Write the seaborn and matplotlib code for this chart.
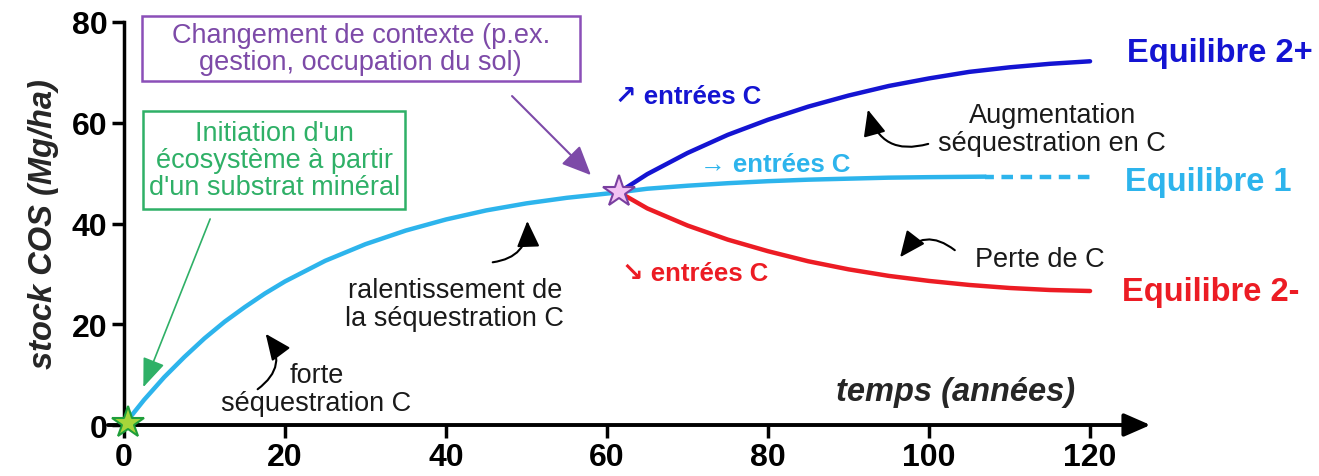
import numpy as np
import pandas as pd
import matplotlib
matplotlib.use('Agg')
import matplotlib.pyplot as plt
from matplotlib.patches import Rectangle
import seaborn as sns

# values
years_eq1 = [0, 2.5, 5, 7.5, 10, 12.5, 15, 17.5, 20, 25, 30, 35, 40, 45, 50, 55, 61.5,
             65, 70, 75, 80, 85, 90, 95, 100, 107]
stock_eq1 = [0, 5.0, 9.5, 13.5, 17.2, 20.5, 23.4, 26.1, 28.5, 32.6, 35.9, 38.6, 40.8,
             42.6, 44.0, 45.1, 46.2, 46.9, 47.5, 48.0, 48.4, 48.7, 48.9, 49.1, 49.2, 49.3]
years_eq1_dash = [107, 120]
stock_eq1_dash = [49.3, 49.3]
years_eq2 = [61.5, 65, 70, 75, 80, 85, 90, 95, 100, 105, 110, 115, 120]
stock_eq2_plus = [46.2, 49.8, 54.0, 57.6, 60.6, 63.2, 65.4, 67.3, 68.8, 70.1, 71.0, 71.7, 72.2]
stock_eq2_minus = [46.2, 43.0, 39.6, 36.8, 34.5, 32.5, 30.9, 29.6, 28.6, 27.8, 27.2, 26.8, 26.6]
x_ticks = [0, 20, 40, 60, 80, 100, 120]
y_ticks = [0, 20, 40, 60, 80]

c_cyan = '#2db4ec'
c_blue = '#1414d2'
c_red = '#ec1c24'
c_purple = '#7d4aa8'
c_green = '#2fb067'
c_text = '#1a1a1a'

sns.set_style('white')
plt.rcParams['font.family'] = ['Liberation Sans', 'DejaVu Sans']

fig = plt.figure(figsize=(13.19, 4.77), dpi=100)
ax = fig.add_axes([0.0818, 0.1069, 0.7904, 0.8449])

sns.lineplot(x=years_eq1, y=stock_eq1, color=c_cyan, lw=3.2, ax=ax)
sns.lineplot(x=years_eq1_dash, y=stock_eq1_dash, color=c_cyan, lw=3.2,
             linestyle=(0.6, (2.6, 1.7)), ax=ax)
sns.lineplot(x=years_eq2, y=stock_eq2_plus, color=c_blue, lw=3.2, ax=ax)
sns.lineplot(x=years_eq2, y=stock_eq2_minus, color=c_red, lw=3.2, ax=ax)

# stars: start of the ecosystem and change of context
ax.plot(years_eq1[0] + 0.5, stock_eq1[0] + 0.3, marker='*', ms=24, mfc='#a6d63a',
        mec='#1f9e3a', mew=1.5, clip_on=False, zorder=5)
ax.plot(years_eq2[0], stock_eq2_plus[0], marker='*', ms=24, mfc='#f3c2f3',
        mec='#7a3fa0', mew=1.5, clip_on=False, zorder=5)

# axes: spines first (moving a spine resets the tick labels)
for s in ['top', 'right', 'bottom']:
    ax.spines[s].set_visible(False)
ax.spines['left'].set_position(('data', 0))
ax.spines['left'].set_bounds(0, 80)
ax.spines['left'].set_linewidth(2.5)
ax.spines['left'].set_color('black')

ax.set_xlim(-2, 127.5)
ax.set_ylim(0, 80)
ax.set_xticks(x_ticks, labels=[str(v) for v in x_ticks], fontsize=23, fontweight='bold')
ax.set_yticks(y_ticks, labels=[str(v) for v in y_ticks], fontsize=23, fontweight='bold')
ax.tick_params(axis='both', width=2.5, length=9, color='black',
               direction='out', left=True, bottom=True, labelcolor='black')
ax.tick_params(axis='x', pad=3)
ax.tick_params(axis='y', pad=3)
ax.annotate('', xy=(1, 0), xytext=(0, 0), xycoords='axes fraction',
            arrowprops=dict(arrowstyle='-|>,head_length=0.8,head_width=0.35',
                            mutation_scale=20, lw=2.8, color='black',
                            shrinkA=0, shrinkB=0))

ax.set_ylabel('stock COS (Mg/ha)', fontsize=23.5, fontweight='bold', style='italic')
ax.yaxis.set_label_coords(-0.047, 0.5)
ax.set_xlabel('temps (années)', fontsize=23.5, fontweight='bold', style='italic',
              ha='right', va='center')
ax.xaxis.set_label_coords(0.928, 0.082)

# boxes
ax.add_patch(Rectangle((2.2, 68.3), 54.4, 12.9, fill=False, ec='#8b4fb8', lw=1.8,
                       clip_on=False))
ax.text(29.4, 74.8, 'Changement de contexte (p.ex.\ngestion, occupation du sol)',
        fontsize=19.5, color=c_purple, ha='center', va='center', linespacing=1.05)
ax.annotate('', xy=(58.0, 49.6), xytext=(48.2, 65.3),
            arrowprops=dict(arrowstyle='-|>,head_length=0.9,head_width=0.4',
                            mutation_scale=20, lw=1.5, color=c_purple,
                            shrinkA=0, shrinkB=0))
ax.add_patch(Rectangle((2.35, 42.9), 32.6, 19.4, fill=False, ec=c_green, lw=1.8))
ax.text(18.7, 52.6, "Initiation d'un\nécosystème à partir\nd'un substrat minéral",
        fontsize=19.5, color=c_green, ha='center', va='center', linespacing=1.05)
ax.annotate('', xy=(2.4, 7.5), xytext=(10.7, 40.9),
            arrowprops=dict(arrowstyle='-|>,head_length=0.9,head_width=0.35',
                            mutation_scale=20, lw=1.2, color=c_green,
                            shrinkA=0, shrinkB=0))

# comments with curved arrows
ax.text(23.9, 7.1, 'forte\nséquestration C', fontsize=19.5, ha='center', va='center',
        color=c_text, linespacing=1.1)
ax.annotate('', xy=(17.6, 18.1), xytext=(16.6, 7.1),
            arrowprops=dict(arrowstyle='-|>,head_length=0.8,head_width=0.35',
                            mutation_scale=20, lw=1.5, color='black',
                            connectionstyle='arc3,rad=0.5', shrinkA=0, shrinkB=0))
ax.text(41.1, 24.0, 'ralentissement de\nla séquestration C', fontsize=19.5, ha='center',
        va='center', color=c_text, linespacing=1.1)
ax.annotate('', xy=(50.1, 40.5), xytext=(45.8, 32.3),
            arrowprops=dict(arrowstyle='-|>,head_length=0.8,head_width=0.35',
                            mutation_scale=20, lw=1.5, color='black',
                            connectionstyle='arc3,rad=0.45', shrinkA=0, shrinkB=0))
ax.text(115.3, 58.7, 'Augmentation\nséquestration en C', fontsize=19.5, ha='center',
        va='center', color=c_text, linespacing=1.1)
ax.annotate('', xy=(92.4, 62.6), xytext=(99.9, 55.8),
            arrowprops=dict(arrowstyle='-|>,head_length=0.8,head_width=0.35',
                            mutation_scale=20, lw=1.5, color='black',
                            connectionstyle='arc3,rad=-0.5', shrinkA=0, shrinkB=0))
ax.text(113.8, 33.0, 'Perte de C', fontsize=19.5, ha='center', va='center',
        color=c_text)
ax.annotate('', xy=(96.4, 33.3), xytext=(103.2, 34.7),
            arrowprops=dict(arrowstyle='-|>,head_length=0.8,head_width=0.35',
                            mutation_scale=20, lw=1.5, color='black',
                            connectionstyle='arc3,rad=0.5', shrinkA=0, shrinkB=0))

# inputs
ax.text(61.0, 65.3, '↗ entrées C', fontsize=18.5, fontweight='bold', color=c_blue,
        ha='left', va='center')
ax.text(71.6, 51.8, '→ entrées C', fontsize=18.5, fontweight='bold', color=c_cyan,
        ha='left', va='center')
ax.text(61.9, 30.2, '↘ entrées C', fontsize=18.5, fontweight='bold', color=c_red,
        ha='left', va='center')

# equilibria
ax.text(124.6, 74.0, 'Equilibre 2+', fontsize=23.5, fontweight='bold', color=c_blue,
        ha='left', va='center', clip_on=False)
ax.text(124.3, 48.4, 'Equilibre 1', fontsize=23.5, fontweight='bold', color=c_cyan,
        ha='left', va='center', clip_on=False)
ax.text(124.0, 26.6, 'Equilibre 2-', fontsize=23.5, fontweight='bold', color=c_red,
        ha='left', va='center', clip_on=False)

fig.savefig('out.png', dpi=100, facecolor='white')
